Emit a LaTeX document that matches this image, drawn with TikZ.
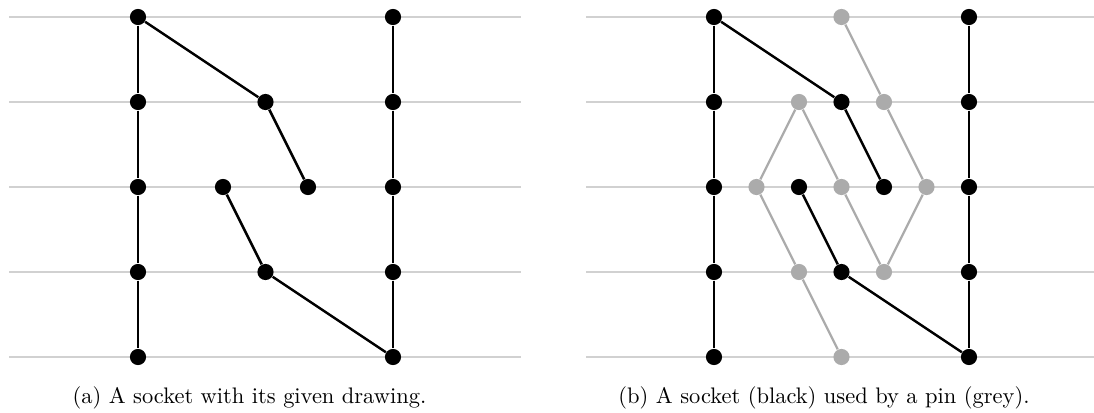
\documentclass[tikz,border=0pt]{standalone}
\begin{document}
\begin{tikzpicture}[x=0.445pt,y=-0.445pt,
  rulel/.style={draw=black!18,line width=0.9pt},
  bedge/.style={draw=black,line width=1.1pt},
  gedge/.style={draw=black!33,line width=1.0pt},
  bdot/.style={circle,fill=black,inner sep=0pt,minimum size=7.2pt},
  gdot/.style={circle,fill=black!33,inner sep=0pt,minimum size=7.2pt},
  captext/.style={font=\fontsize{10}{12}\selectfont,inner sep=0pt,anchor=base}]
\useasboundingbox (0,0) rectangle (1094,413);
% rules
\foreach \r in {0,...,4}{
  \draw[rulel] (9,17+85*\r) -- (521,17+85*\r);
  \draw[rulel] (586,17+85*\r) -- (1094,17+85*\r);
}
% ---- panel (a)
\foreach \r in {0,...,4}{
  \node[bdot] (a\r) at (138,17+85*\r) {};
  \node[bdot] (b\r) at (393,17+85*\r) {};
}
\node[bdot] (p1) at (265.5,102) {};
\node[bdot] (p2) at (308,187) {};
\node[bdot] (q1) at (223,187) {};
\node[bdot] (q2) at (265.5,272) {};
\draw[bedge] (a0) -- (a1) -- (a2) -- (a3) -- (a4);
\draw[bedge] (b0) -- (b1) -- (b2) -- (b3) -- (b4);
\draw[bedge] (a0) -- (p1) -- (p2);
\draw[bedge] (q1) -- (q2) -- (b4);
% ---- panel (b)
\foreach \r in {0,...,4}{
  \node[bdot] (c\r) at (714,17+85*\r) {};
  \node[bdot] (d\r) at (969,17+85*\r) {};
}
\node[gdot] (g1) at (841.5,17) {};
\node[gdot] (g2) at (884,102) {};
\node[gdot] (g3) at (926.5,187) {};
\node[gdot] (g4) at (884,272) {};
\node[gdot] (h1) at (799,102) {};
\node[gdot] (h2) at (756.5,187) {};
\node[gdot] (h3) at (799,272) {};
\node[gdot] (h4) at (841.5,357) {};
\node[gdot] (k1) at (841.5,187) {};
\node[bdot] (r1) at (841.5,102) {};
\node[bdot] (r2) at (884,187) {};
\node[bdot] (s1) at (799,187) {};
\node[bdot] (s2) at (841.5,272) {};
\draw[gedge] (g1) -- (g2) -- (g3) -- (g4);
\draw[gedge] (h1) -- (h2) -- (h3) -- (h4);
\draw[gedge] (h1) -- (k1) -- (g4);
\draw[bedge] (c0) -- (c1) -- (c2) -- (c3) -- (c4);
\draw[bedge] (d0) -- (d1) -- (d2) -- (d3) -- (d4);
\draw[bedge] (c0) -- (r1) -- (r2);
\draw[bedge] (s1) -- (s2) -- (d4);
% captions
\node[captext] (capa) at (249.5,403) {(a) A socket with its given drawing.};
\node[captext] (capb) at (824,403) {(b) A socket (black) used by a pin (grey).};
\end{tikzpicture}
\end{document}
